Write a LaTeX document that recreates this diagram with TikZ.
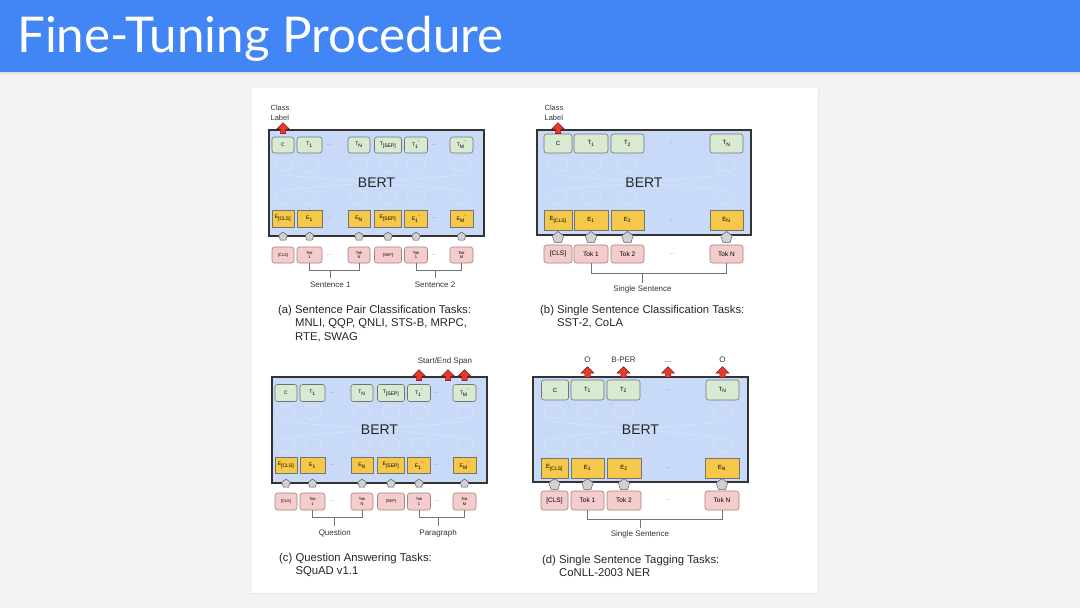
\documentclass[tikz,border=0pt]{standalone}
\usepackage{fontspec}
\setmainfont{Liberation Sans}
\newfontfamily\titlefont{Lato}
\usetikzlibrary{shapes.geometric, shapes.arrows, calc, positioning}

\definecolor{slideblue}{HTML}{4285F4}
\definecolor{slidegray}{HTML}{F3F3F3}
\definecolor{bertblue}{HTML}{C9DAF8}
\definecolor{outgreen}{HTML}{D9EAD3}
\definecolor{embyellow}{HTML}{F6C84A}
\definecolor{tokpink}{HTML}{F4CCCC}
\definecolor{spanred}{HTML}{E5392F}
\newcommand{\coldots}{...}

\begin{document}
\begin{tikzpicture}[
    x=1pt, y=-1pt,
    bert/.style={
        draw=black!80,
        fill=bertblue,
        line width=1.1pt,
        inner sep=0
    },
    bertname/.style={font=\fontsize{14}{14}\selectfont, text=black!85, inner sep=0},
    outbox/.style={
        draw=black!55,
        fill=outgreen,
        rounded corners=2.5pt,
        line width=0.6pt,
        inner sep=0,
        align=center
    },
    embbox/.style={
        draw=black!55,
        fill=embyellow,
        line width=0.6pt,
        inner sep=0,
        align=center
    },
    tokbox/.style={
        draw=red!30!black!50,
        fill=tokpink,
        rounded corners=2.5pt,
        line width=0.6pt,
        inner sep=0,
        align=center
    },
    dots/.style={text=black!45, inner sep=0},
    grayup/.style={
        regular polygon, regular polygon sides=5,
        draw=black!65, fill=black!18,
        line width=0.5pt, inner sep=0
    },
    redup/.style={
        single arrow, shape border rotate=90,
        draw=red!45!black, fill=spanred,
        minimum height=11pt, minimum width=13pt,
        single arrow head extend=3pt,
        line width=0.4pt, inner sep=2pt
    },
    bracket/.style={draw=black!55, line width=0.6pt},
    ghost/.style={draw=white, opacity=0.3, line width=0.5pt},
    label text/.style={font=\fontsize{8}{9}\selectfont, text=black!80, inner sep=1pt},
    caption/.style={
        font=\fontsize{11.3}{13.5}\selectfont,
        text=black!85,
        align=left,
        anchor=north west,
        inner sep=0
    }
]

    % slide background and title bar
    \fill[slidegray] (0,0) rectangle (1080,608);
    \fill[black!10] (252,89) rectangle (819,594);
    \fill[white] (252,88) rectangle (818,593);
    \fill[black!12] (0,72) rectangle (1080,74);
    \fill[slideblue] (0,0) rectangle (1080,72);
    \node[font=\titlefont\fontsize{49.3}{49.3}\selectfont, text=white, anchor=base west, inner sep=0]
        (title) at (17,52) {Fine-Tuning Procedure};

    % --- (a) SENTENCE PAIR CLASSIFICATION ---
    \node[bert, minimum width=215pt, minimum height=106pt] (a-bert) at (376.5,183) {};
    \foreach \x in {283, 309.5, 359, 388, 416, 461.5} {
        \draw[ghost] (\x,165) ellipse (9pt and 7pt);
        \draw[ghost] (\x,198) ellipse (9pt and 7pt);
    }
    \draw[ghost] (283,175) -- (461.5,190) (283,190) -- (461.5,175);
    \node[bertname] (a-name) at (a-bert) {BERT};

    \foreach \i/\x/\w/\t in {1/283/22/C, 2/309.5/25/T\textsubscript{1}, 4/359/22/T\textsubscript{N},
            5/388/27/T\textsubscript{[SEP]}, 6/416/23/T\textsubscript{1}\textsuperscript{'}, 8/461.5/23/T\textsubscript{M}\textsuperscript{'}}
        \node[outbox, minimum width=\w pt, minimum height=16pt, font=\fontsize{5}{5}\selectfont] (a-t\i) at (\x,145) {\t};
    \foreach \i/\x/\w/\t in {1/283/22/E\textsubscript{[CLS]}, 2/309.5/25/E\textsubscript{1}, 4/359/22/E\textsubscript{N},
            5/388/27/E\textsubscript{[SEP]}, 6/416/23/E\textsubscript{1}\textsuperscript{'}, 8/461.5/23/E\textsubscript{M}\textsuperscript{'}}
        \node[embbox, minimum width=\w pt, minimum height=17pt, font=\fontsize{5}{5}\selectfont] (a-e\i) at (\x,218.5) {\t};
    \foreach \i/\x/\w/\t in {1/283/22/[CLS], 2/309.5/25/Tok\\1, 4/359/22/Tok\\N,
            5/388/27/[SEP], 6/416/23/Tok\\1, 8/461.5/23/Tok\\M}
        \node[tokbox, minimum width=\w pt, minimum height=16pt, font=\fontsize{4}{4.5}\selectfont] (a-k\i) at (\x,255) {\t};
    \foreach \i/\x in {3/329, 7/434} {
        \node[dots, font=\fontsize{6}{6}\selectfont] (a-t\i) at (\x,145) {\coldots};
        \node[dots, font=\fontsize{6}{6}\selectfont] (a-e\i) at (\x,218.5) {\coldots};
        \node[dots, font=\fontsize{6}{6}\selectfont] (a-k\i) at (\x,255) {\coldots};
    }
    \foreach \i in {1,2,4,5,6,8}
        \node[grayup, minimum size=9pt] (a-g\i) at (a-e\i |- a-bert.south) {};

    \node[redup] (a-cls) at (a-t1 |- a-bert.north) {};
    \node[label text, font=\fontsize{7.5}{9.5}\selectfont, align=left, above=1pt of a-cls, xshift=-3pt] (a-clslbl) {Class\\Label};

    \draw[bracket] (a-k2.south) -- ++(0,7) -| (a-k4.south);
    \coordinate (a-m1) at ($(a-k2.south)!0.42!(a-k4.south) + (0,7)$);
    \draw[bracket] (a-m1) -- ++(0,8) node[label text, below=2pt] (a-sent1) {Sentence 1};
    \draw[bracket] (a-k6.south) -- ++(0,7) -| (a-k8.south);
    \coordinate (a-m2) at ($(a-k6.south)!0.42!(a-k8.south) + (0,7)$);
    \draw[bracket] (a-m2) -- ++(0,8) node[label text, below=2pt] (a-sent2) {Sentence 2};

    \node[caption] (a-cap) at (278,305) {(a) Sentence Pair Classification Tasks:\\
        \phantom{(a) }MNLI, QQP, QNLI, STS-B, MRPC,\\\phantom{(a) }RTE, SWAG};

    % --- (b) SINGLE SENTENCE CLASSIFICATION ---
    \node[bert, minimum width=214pt, minimum height=105pt] (b-bert) at (644,182.5) {};
    \foreach \x in {558, 591, 627.5, 726.5} {
        \draw[ghost] (\x,165) ellipse (10pt and 7pt);
        \draw[ghost] (\x,198) ellipse (10pt and 7pt);
    }
    \draw[ghost] (558,175) -- (726.5,190) (558,190) -- (726.5,175);
    \node[bertname] (b-name) at (b-bert) {BERT};

    \foreach \i/\x/\w/\t in {1/558/28/C, 2/591/34/T\textsubscript{1}, 3/627.5/33/T\textsubscript{2}, 5/726.5/33/T\textsubscript{N}}
        \node[outbox, minimum width=\w pt, minimum height=19pt, font=\fontsize{6}{6}\selectfont] (b-t\i) at (\x,143.5) {\t};
    \foreach \i/\x/\w/\t in {1/558/28/E\textsubscript{[CLS]}, 2/591/34/E\textsubscript{1}, 3/627.5/33/E\textsubscript{2}, 5/726.5/33/E\textsubscript{N}}
        \node[embbox, minimum width=\w pt, minimum height=20pt, font=\fontsize{6}{6}\selectfont] (b-e\i) at (\x,220) {\t};
    \foreach \i/\x/\w/\t in {1/558/28/[CLS], 2/591/34/Tok 1, 3/627.5/33/Tok 2, 5/726.5/33/Tok N}
        \node[tokbox, minimum width=\w pt, minimum height=18pt, font=\fontsize{6.5}{6.5}\selectfont] (b-k\i) at (\x,254) {\t};
    \node[dots, font=\fontsize{6}{6}\selectfont] (b-t4) at (672,143.5) {\coldots};
    \node[dots, font=\fontsize{6}{6}\selectfont] (b-e4) at (672,220) {\coldots};
    \node[dots, font=\fontsize{6}{6}\selectfont] (b-k4) at (672,254) {\coldots};
    \foreach \i in {1,2,3,5}
        \node[grayup, minimum size=12pt, yshift=-2pt] (b-g\i) at (b-e\i |- b-bert.south) {};

    \node[redup] (b-cls) at (b-t1 |- b-bert.north) {};
    \node[label text, font=\fontsize{7.5}{9.5}\selectfont, align=left, above=1pt of b-cls, xshift=-4pt] (b-clslbl) {Class\\Label};

    \draw[bracket] (b-k2.south) -- ++(0,10) -| (b-k5.south);
    \coordinate (b-m1) at ($(b-k2.south)!0.38!(b-k5.south) + (0,10)$);
    \draw[bracket] (b-m1) -- ++(0,10) node[label text, below=1pt] (b-sent) {Single Sentence};

    \node[caption] (b-cap) at (540,305) {(b) Single Sentence Classification Tasks:\\
        \phantom{(b) }SST-2, CoLA};

    % --- (c) QUESTION ANSWERING ---
    \node[bert, minimum width=215pt, minimum height=106pt] (c-bert) at (379.5,430) {};
    \foreach \x in {286, 312.5, 362, 391, 419, 464.5} {
        \draw[ghost] (\x,412) ellipse (9pt and 7pt);
        \draw[ghost] (\x,445) ellipse (9pt and 7pt);
    }
    \draw[ghost] (286,422) -- (464.5,437) (286,437) -- (464.5,422);
    \node[bertname] (c-name) at (c-bert) {BERT};

    \foreach \i/\x/\w/\t in {1/286/22/C, 2/312.5/25/T\textsubscript{1}, 4/362/22/T\textsubscript{N},
            5/391/27/T\textsubscript{[SEP]}, 6/419/23/T\textsubscript{1}\textsuperscript{'}, 8/464.5/23/T\textsubscript{M}\textsuperscript{'}}
        \node[outbox, minimum width=\w pt, minimum height=17pt, font=\fontsize{5}{5}\selectfont] (c-t\i) at (\x,393) {\t};
    \foreach \i/\x/\w/\t in {1/286/22/E\textsubscript{[CLS]}, 2/312.5/25/E\textsubscript{1}, 4/362/22/E\textsubscript{N},
            5/391/27/E\textsubscript{[SEP]}, 6/419/23/E\textsubscript{1}\textsuperscript{'}, 8/464.5/23/E\textsubscript{M}\textsuperscript{'}}
        \node[embbox, minimum width=\w pt, minimum height=16pt, font=\fontsize{5}{5}\selectfont] (c-e\i) at (\x,465.5) {\t};
    \foreach \i/\x/\w/\t in {1/286/22/[CLS], 2/312.5/25/Tok\\1, 4/362/22/Tok\\N,
            5/391/27/[SEP], 6/419/23/Tok\\1, 8/464.5/23/Tok\\M}
        \node[tokbox, minimum width=\w pt, minimum height=17pt, font=\fontsize{4}{4.5}\selectfont] (c-k\i) at (\x,501.5) {\t};
    \foreach \i/\x in {3/332, 7/437} {
        \node[dots, font=\fontsize{6}{6}\selectfont] (c-t\i) at (\x,393) {\coldots};
        \node[dots, font=\fontsize{6}{6}\selectfont] (c-e\i) at (\x,465.5) {\coldots};
        \node[dots, font=\fontsize{6}{6}\selectfont] (c-k\i) at (\x,501.5) {\coldots};
    }
    \foreach \i in {1,2,4,5,6,8}
        \node[grayup, minimum size=9pt] (c-g\i) at (c-e\i |- c-bert.south) {};

    \coordinate (c-mx) at ($(c-t7)!0.4!(c-t8)$);
    \node[redup] (c-start) at (c-t6 |- c-bert.north) {};
    \node[redup] (c-mid) at (c-mx |- c-bert.north) {};
    \node[redup] (c-end) at (c-t8 |- c-bert.north) {};
    \node[label text, above=3pt of c-mid, xshift=-3pt] (c-span) {Start/End Span};

    \draw[bracket] (c-k2.south) -- ++(0,7) -| (c-k4.south);
    \coordinate (c-m1) at ($(c-k2.south)!0.45!(c-k4.south) + (0,7)$);
    \draw[bracket] (c-m1) -- ++(0,9) node[label text, below=2pt] (c-quest) {Question};
    \draw[bracket] (c-k6.south) -- ++(0,7) -| (c-k8.south);
    \coordinate (c-m2) at ($(c-k6.south)!0.42!(c-k8.south) + (0,7)$);
    \draw[bracket] (c-m2) -- ++(0,9) node[label text, below=2pt] (c-para) {Paragraph};

    \node[caption] (c-cap) at (279,553) {(c) Question Answering Tasks:\\
        \phantom{(c) }SQuAD v1.1};

    % --- (d) SINGLE SENTENCE TAGGING ---
    \node[bert, minimum width=215pt, minimum height=105pt] (d-bert) at (640.5,429.5) {};
    \foreach \x in {554, 587, 623.5, 722.5} {
        \draw[ghost] (\x,412) ellipse (10pt and 7pt);
        \draw[ghost] (\x,445) ellipse (10pt and 7pt);
    }
    \draw[ghost] (554,422) -- (722.5,437) (554,437) -- (722.5,422);
    \node[bertname] (d-name) at (d-bert) {BERT};

    \foreach \i/\x/\w/\t in {1/555/27/C, 2/587.5/33/T\textsubscript{1}, 3/623.5/33/T\textsubscript{2}, 5/722.5/33/T\textsubscript{N}}
        \node[outbox, minimum width=\w pt, minimum height=20pt, font=\fontsize{6}{6}\selectfont] (d-t\i) at (\x,390) {\t};
    \foreach \i/\x/\w/\t in {1/554.5/27/E\textsubscript{[CLS]}, 2/587.5/33/E\textsubscript{1}, 3/624/34/E\textsubscript{2}, 5/722/34/E\textsubscript{N}}
        \node[embbox, minimum width=\w pt, minimum height=20pt, font=\fontsize{6}{6}\selectfont] (d-e\i) at (\x,468) {\t};
    \foreach \i/\x/\w/\t in {1/554.5/27/[CLS], 2/587.5/33/Tok 1, 3/624/34/Tok 2, 5/722/34/Tok N}
        \node[tokbox, minimum width=\w pt, minimum height=19pt, font=\fontsize{6.5}{6.5}\selectfont] (d-k\i) at (\x,500.5) {\t};
    \node[dots, font=\fontsize{6}{6}\selectfont] (d-t4) at (668,390) {\coldots};
    \node[dots, font=\fontsize{6}{6}\selectfont] (d-e4) at (668,468) {\coldots};
    \node[dots, font=\fontsize{6}{6}\selectfont] (d-k4) at (668,500.5) {\coldots};
    \foreach \i in {1,2,3,5}
        \node[grayup, minimum size=12pt, yshift=-2pt] (d-g\i) at (d-e\i |- d-bert.south) {};

    \foreach \i/\t in {2/O, 3/B-PER, 4/\coldots, 5/O} {
        \node[redup, yshift=3pt] (d-r\i) at (d-t\i |- d-bert.north) {};
        \node[label text, above=3pt of d-r\i] (d-tag\i) {\t};
    }

    \draw[bracket] (d-k2.south) -- ++(0,9) -| (d-k5.south);
    \coordinate (d-m1) at ($(d-k2.south)!0.39!(d-k5.south) + (0,9)$);
    \draw[bracket] (d-m1) -- ++(0,9) node[label text, below=1pt] (d-sent) {Single Sentence};

    \node[caption] (d-cap) at (542,555) {(d) Single Sentence Tagging Tasks:\\
        \phantom{(d) }CoNLL-2003 NER};

\end{tikzpicture}
\end{document}
